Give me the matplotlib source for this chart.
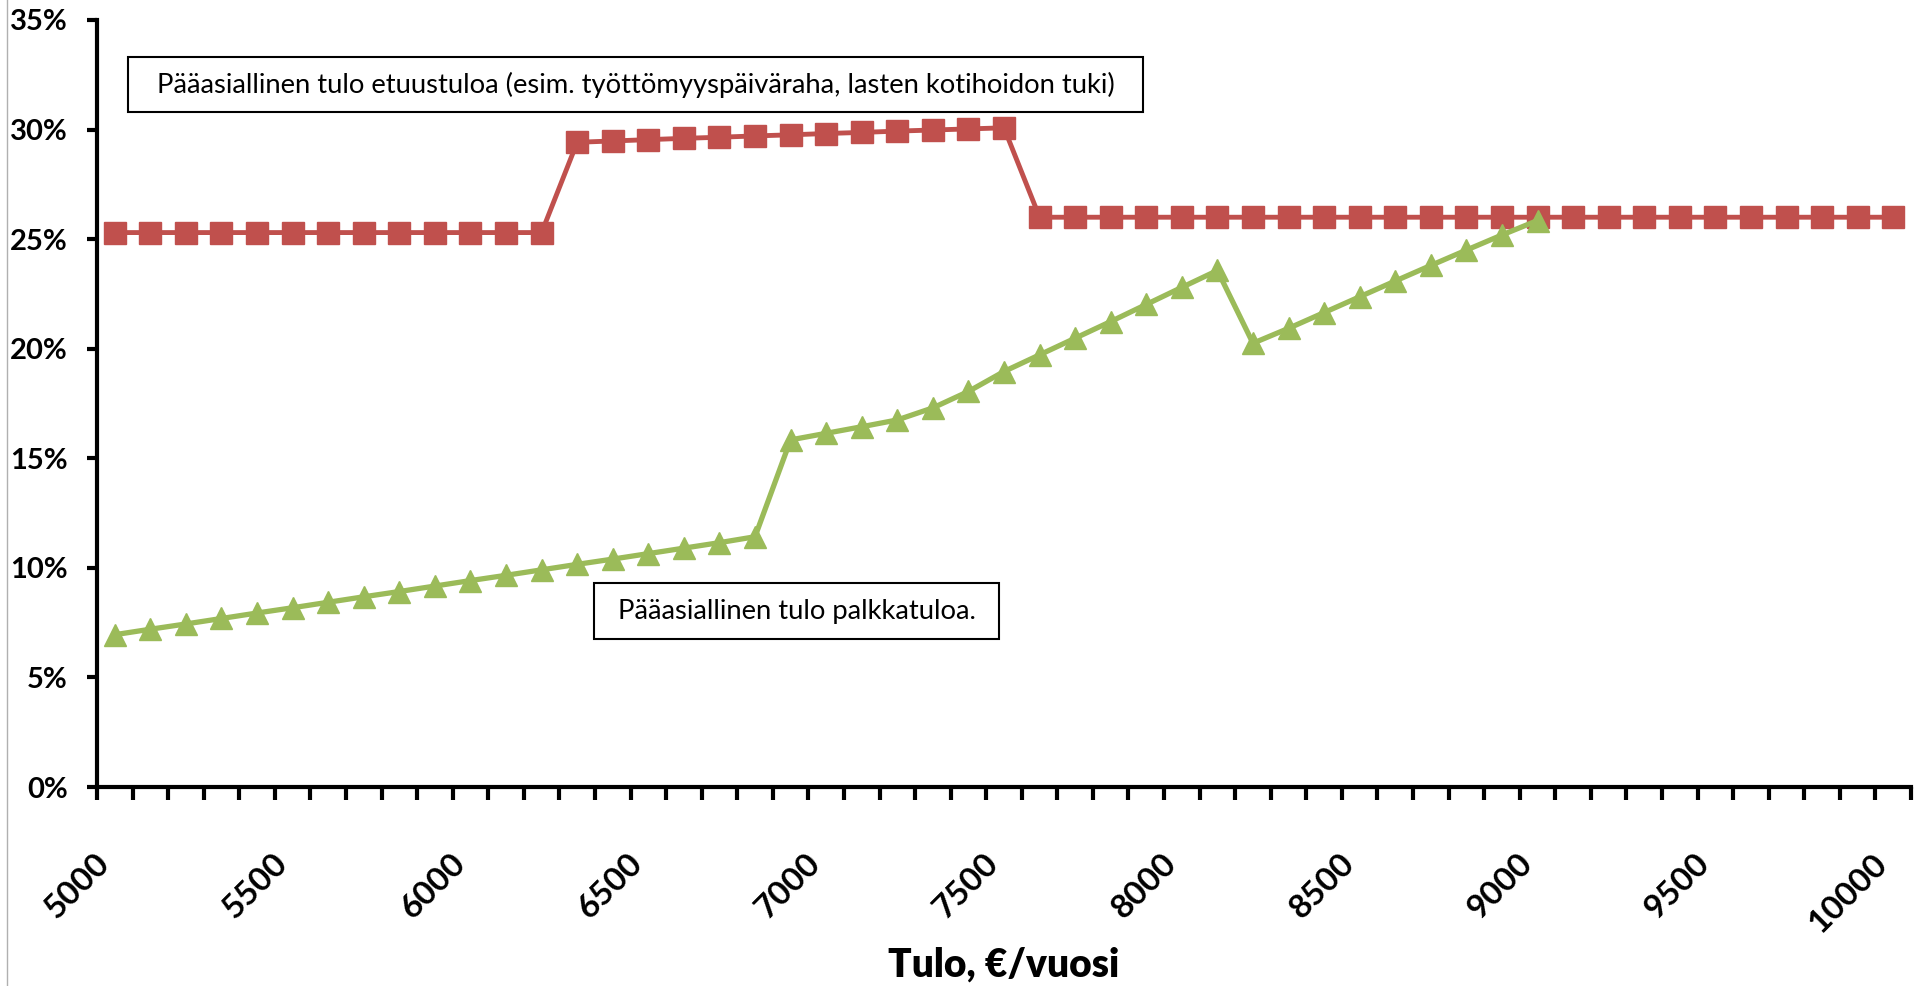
import matplotlib.pyplot as plt
import matplotlib.ticker as mticker
from matplotlib.patches import Rectangle
from matplotlib.lines import Line2D
import numpy as np

plt.rcParams['font.family'] = ['Lato', 'DejaVu Sans']

# data (percent), income steps of 100 €/year
tulo = list(range(5000, 10001, 100))
etuustulo = [25.3] * 13 + [29.42, 29.48, 29.54, 29.6, 29.65, 29.71, 29.76,
                           29.82, 29.87, 29.93, 29.98, 30.03, 30.08] + [26.0] * 25
palkkatulo = [6.95, 7.2, 7.44, 7.69, 7.94, 8.18, 8.43, 8.68, 8.92, 9.17,
              9.42, 9.66, 9.91, 10.16, 10.4, 10.65, 10.9, 11.15, 11.42,
              15.84, 16.14, 16.44, 16.75, 17.3, 18.05, 18.96, 19.72, 20.48,
              21.24, 22.02, 22.8, 23.57,
              20.25, 20.93, 21.65, 22.37, 23.09, 23.8, 24.5, 25.19, 25.85]
x_labels = list(range(5000, 10001, 500))
y_ticks = [0, 5, 10, 15, 20, 25, 30, 35]

W, H = 1917, 986
fig = plt.figure(figsize=(W / 100, H / 100), dpi=100)
ax = fig.add_axes([97 / W, 1 - 787 / H, (1911 - 97) / W, (787 - 20) / H])

ax.plot(tulo, etuustulo, color='#C0504D', lw=3.5, marker='s', ms=15.5, zorder=3)
ax.plot(tulo[:len(palkkatulo)], palkkatulo, color='#9BBB59', lw=3.8,
        marker='^', ms=16.5, zorder=4)

ax.set_xlim(4950, 10050)
ax.set_ylim(0, 35)

for s in ['top', 'right']:
    ax.spines[s].set_visible(False)
for s in ['left', 'bottom']:
    ax.spines[s].set_linewidth(3)

ax.set_yticks(y_ticks)
ax.set_yticklabels([f'{v}%' for v in y_ticks], fontsize=21, fontweight='bold')
ax.tick_params(axis='y', length=7, width=3, pad=14)

ax.set_xticks(x_labels)
ax.set_xticklabels([str(v) for v in x_labels], fontsize=24, fontweight='bold',
                   rotation=45, ha='right', va='top')
ax.xaxis.set_minor_locator(mticker.FixedLocator(np.arange(4950, 10051, 100)))
ax.tick_params(axis='x', which='major', length=0, pad=44)
ax.tick_params(axis='x', which='minor', length=9, width=3)

fig.text(1004 / W, 1 - 965 / H, 'Tulo, €/vuosi', fontsize=28, fontweight='heavy',
         ha='center', va='center')

# text boxes
def box(x0, y0, x1, y1, txt):
    fig.add_artist(Rectangle((x0 / W, 1 - y1 / H), (x1 - x0) / W, (y1 - y0) / H,
                             transform=fig.transFigure, fill=False,
                             edgecolor='black', lw=1.5))
    fig.text((x0 + x1) / 2 / W, 1 - (y0 + y1) / 2 / H, txt, fontsize=19.7,
             ha='center', va='center')

box(128, 57, 1143, 112,
    'Pääasiallinen tulo etuustuloa (esim. työttömyyspäiväraha, lasten kotihoidon tuki)')
box(594, 583, 999, 639, 'Pääasiallinen tulo palkkatuloa.')

fig.add_artist(Line2D([7 / W, 7 / W], [0, 1], transform=fig.transFigure,
                      color='#b0b0b0', lw=1))

fig.savefig('out.png', dpi=100)
